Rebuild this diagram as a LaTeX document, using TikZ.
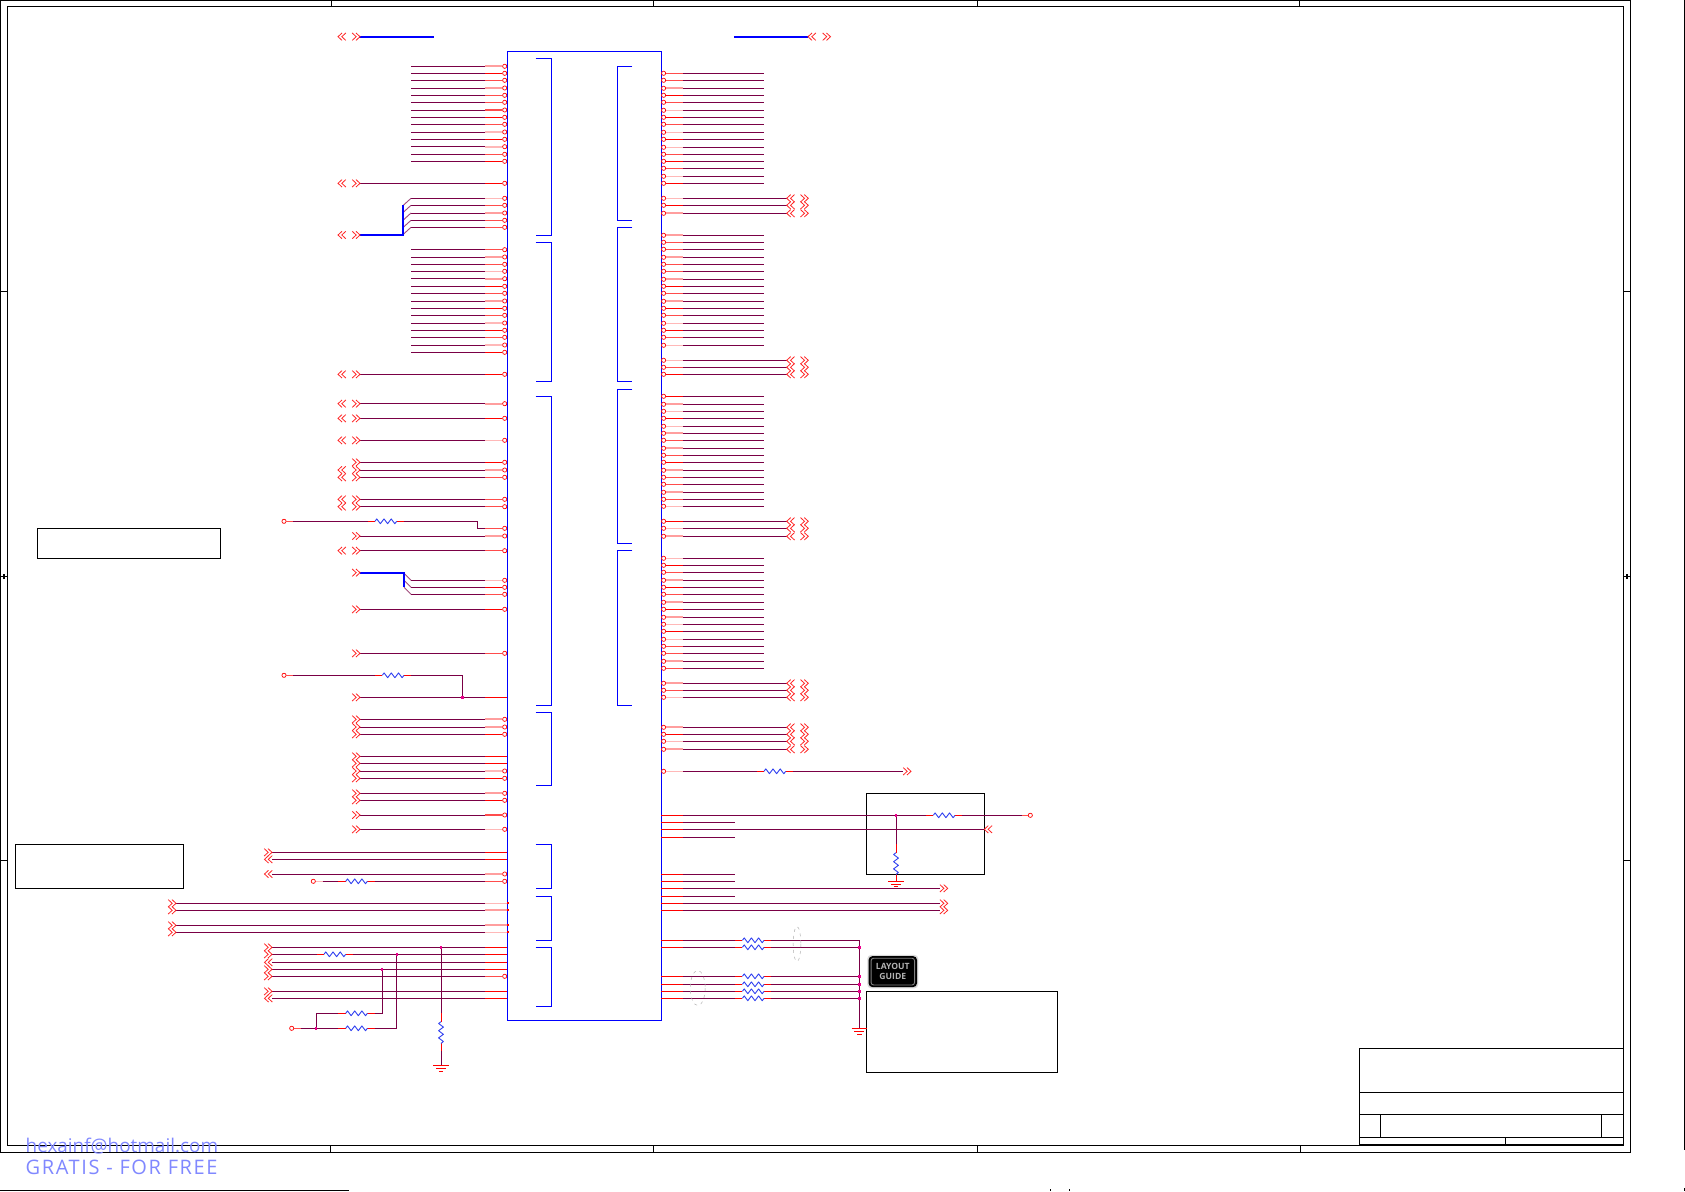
\documentclass[tikz,border=0pt]{standalone}
\usepackage{fontspec}
\setmainfont{Open Sans}
\newfontfamily\wmfont[LetterSpace=8]{Open Sans}
\definecolor{wirec}{HTML}{7A0045}
\definecolor{wmc}{HTML}{8088FF}
\definecolor{resc}{HTML}{3040F0}
\tikzset{
  wire/.style={draw=wirec,line width=.95pt},
  bluebus/.style={draw=blue,line width=2pt},
  blueln/.style={draw=blue,line width=1pt},
  diag/.style={draw=wirec!70!white,line width=.9pt},
  sr/.style={draw=red,line width=.95pt},
  sm/.style={draw=red!70!white,line width=1.1pt},
  sp/.style={draw=red!38!white,line width=2pt},
  sl/.style={draw=red!28!white,line width=1.6pt},
  pinc/.style={circle,draw=red,fill=white,line width=.7pt,inner sep=0pt,minimum size=4.2pt},
  jn/.style={rectangle,fill=magenta,inner sep=0pt,minimum size=2.4pt},
  frameln/.style={draw=black,line width=1pt},
  plainbox/.style={draw=black,line width=1pt,fill=none,inner sep=0pt,anchor=north west},
  chev/.style={draw=red!85!white,line width=.8pt},
  pics/chr/.style={code={\draw[chev] (-7.8,-3.7)--(-3.8,0)--(-7.8,3.7) (-4,-3.7)--(0,0)--(-4,3.7);}},
  pics/chl/.style={code={\draw[chev] (7.8,-3.7)--(3.8,0)--(7.8,3.7) (4,-3.7)--(0,0)--(4,3.7);}},
  pics/hz/.style={code={\draw[draw=resc,line width=.9pt,line join=round] (0,0)--(1.8,-2.4)--(5.4,2.4)--(9,-2.4)--(12.6,2.4)--(16.2,-2.4)--(19.8,2.4)--(21.7,0);}},
  pics/vz/.style={code={\draw[draw=resc,line width=.9pt,line join=round] (0,0)--(-2.4,1.8)--(2.4,5.4)--(-2.4,9)--(2.4,12.6)--(-2.4,16.2)--(2.4,19.8)--(0,21.7);}},
}
% left row with a pin
\newcommand{\Lrow}[4]{\node[pinc] (#1p) at (504.7,#2) {};\coordinate (#1s) at (#3,#2);\coordinate (#1k) at (485,#2);\draw[#4] (#1k) -- (#1p);\draw[wire] (#1s) -- (#1k);}
% left row without a pin
\newcommand{\LrowN}[4]{\coordinate (#1p) at (507.3,#2);\coordinate (#1s) at (#3,#2);\coordinate (#1k) at (485,#2);\draw[#4] (#1k) -- (#1p);\draw[wire] (#1s) -- (#1k);}
% right row with a pin
\newcommand{\Rrow}[4]{\node[pinc] (#1p) at (663.6,#2) {};\coordinate (#1e) at (#3,#2);\coordinate (#1k) at (683,#2);\draw[#4] (#1p) -- (#1k);\draw[wire] (#1k) -- (#1e);}
% right row without a pin
\newcommand{\RrowN}[4]{\coordinate (#1p) at (661.3,#2);\coordinate (#1e) at (#3,#2);\coordinate (#1k) at (683,#2);\draw[#4] (#1p) -- (#1k);\draw[wire] (#1k) -- (#1e);}
% horizontal resistor: #2 = start of zigzag
\newcommand{\hres}[3]{\coordinate (#1a) at ({#2-7.3},#3);\coordinate (#1c) at (#2,#3);\coordinate (#1d) at ({#2+21.7},#3);\coordinate (#1b) at ({#2+29},#3);\draw[sr] (#1a)--(#1c) (#1d)--(#1b);\pic at (#1c) {hz};}
% vertical resistor
\newcommand{\vres}[3]{\coordinate (#1a) at (#2,{#3-8.3});\coordinate (#1c) at (#2,#3);\coordinate (#1d) at (#2,{#3+21.7});\coordinate (#1b) at (#2,{#3+29});\draw[sr] (#1a)--(#1c) (#1d)--(#1b);\pic at (#1c) {vz};}
% ground symbol
\newcommand{\gnd}[3]{\coordinate (#1) at (#2,#3);\draw[draw=red,line width=.9pt] ({#2-7.6},#3)--({#2+7.6},#3) ({#2-5},{#3+2.7})--({#2+5},{#3+2.7}) ({#2-2.2},{#3+5.3})--({#2+2.2},{#3+5.3});}
\begin{document}
\begin{tikzpicture}[x=1pt,y=-1pt]
\useasboundingbox (0,0) rectangle (1685,1191);
\fill[white] (0,0) rectangle (1685,1191);
% ---------- sheet frame
\draw[frameln] (0.5,0.4) rectangle (1630.5,1152.5);
\draw[frameln] (7.3,6.6) rectangle (1623.5,1145.2);
\foreach \x in {331,653.5,977,1299.5} {\draw[frameln] (\x,0.4) -- (\x,6.6);}
\foreach \x in {330.5,653.7,977.3,1300.3} {\draw[frameln] (\x,1145.2) -- (\x,1152.5);}
\foreach \y in {291.2,860.3} {\draw[frameln] (0.5,\y) -- (7.3,\y); \draw[frameln] (1623.5,\y) -- (1630.5,\y);}
\draw[frameln] (0.5,576.3) -- (7.3,576.3);
\fill[black] (3,574) rectangle (5,578.6);
\draw[frameln] (1623.5,576.3) -- (1630.5,576.3);
\fill[black] (1625.5,574) rectangle (1627.5,578.6);
\draw[frameln] (1684.5,0) -- (1684.5,1150);
\draw[frameln] (1684.5,1188) -- (1684.5,1191);
\draw[frameln] (0,1190.4) -- (349,1190.4);
\draw[frameln] (1050,1189) -- (1050,1191) (1069,1189) -- (1069,1191);
% ---------- title block
\draw[frameln] (1359.3,1048.3) rectangle (1623.5,1144.5);
\draw[frameln] (1359.3,1092.3) -- (1623.5,1092.3);
\draw[frameln] (1359.3,1114.3) -- (1623.5,1114.3);
\draw[frameln] (1359.3,1137.3) -- (1623.5,1137.3);
\draw[frameln] (1380.7,1114.3) -- (1380.7,1137.3);
\draw[frameln] (1601.7,1114.3) -- (1601.7,1137.3);
\draw[frameln] (1505.3,1137.3) -- (1505.3,1144.5);
\draw[draw=black,line width=1.6pt] (1359.3,1144.6) -- (1623.5,1144.6);
% ---------- note boxes
\node[plainbox,minimum width=183pt,minimum height=29.6pt] (noteA) at (37.3,528.3) {};
\node[plainbox,minimum width=167.4pt,minimum height=44pt] (noteB) at (15.3,844.3) {};
\node[plainbox,minimum width=118pt,minimum height=81pt] (noteC) at (866.3,793.3) {};
\node[plainbox,minimum width=191pt,minimum height=81pt] (noteD) at (866.3,991.3) {};
% ---------- main part
\node[draw=blue,line width=1pt,inner sep=0pt,anchor=north west,minimum width=154pt,minimum height=969pt] (part) at (507.3,51.3) {};
% left brackets
\foreach \a/\b in {58/235.3,242.3/381.5,396.5/705,712/785,844.7/888,896.2/940.3,947.5/1006.8}
  {\draw[blueln] (535.5,\a) -- (551.3,\a) -- (551.3,\b) -- (535.5,\b);}
% right brackets
\foreach \a/\b in {66/220.3,227.3/381.3,389.3/543.3,550.3/705.3}
  {\draw[blueln] (632.3,\a) -- (617.3,\a) -- (617.3,\b) -- (632.3,\b);}
% ---------- top single bus lines
\coordinate (tl) at (359,36.7); \coordinate (tle) at (434,36.7);
\draw[bluebus] (tl) -- (tle);
\coordinate (tr) at (734,36.7); \coordinate (tre) at (808,36.7);
\draw[bluebus] (tr) -- (tre);
\pic at (808,36.7) {chl}; \pic at (830.5,36.7) {chr};
% ---------- left pin groups
\foreach \y/\s [count=\i] in {66.3/sp,73.3/sr,80.3/sm,88/sp,95.3/sm,102.3/sm,110/sm,117.3/sr,124.3/sm,132/sl,139.3/sr,146.7/sl,154.3/sm,161.3/sr}
  {\Lrow{la\i}{\y}{411}{\s}}
\foreach \y/\s [count=\i] in {198.3/sl,205.3/sm,213/sp,220.3/sm,227.3/sm}
  {\Lrow{lb\i}{\y}{411}{\s}
   \coordinate (lbd\i) at (403.3,{\y+7});
   \draw[diag] (lbd\i) -- (lb\i s);}
\coordinate (bh1) at (360,235); \coordinate (bh2) at (403.3,235); \coordinate (bh3) at (403.3,205);
\draw[bluebus] (bh1) -- (bh2) -- (bh3);
\foreach \y/\s [count=\i] in {249.7/sm,257/sp,264.3/sm,271.3/sl,278.7/sp,286.3/sr,293.3/sm,301/sp,308.3/sr,315.3/sm,323/sl,330.3/sr,337.3/sm,345/sl,352.3/sr}
  {\Lrow{lc\i}{\y}{411}{\s}}
% left rows with off-page chevrons
\foreach \y/\s [count=\i] in {183.3/sr,374.3/sr,403.7/sp,418.3/sr,440.3/sl,462.3/sr,470/sp,477.3/sm,499.3/sm,506.7/sm,536/sp,550.7/sm,609.3/sr,653.3/sm,719.3/sp,727/sp,734.3/sr,771/sl,778.3/sr,793.3/sp,800.3/sr,815/sm,829.3/sl}
  {\Lrow{ld\i}{\y}{360}{\s}\pic at (360,\y) {chr};}
\foreach \y in {183.3,374.3,403.7,418.3,440.3,470,477.3,499.3,506.7,550.7}
  {\pic at (338,\y) {chl};}
\foreach \y in {235} {\pic at (360,\y) {chr}; \pic at (338,\y) {chl};}
\pic at (360,36.7) {chr}; \pic at (338,36.7) {chl};
% no-pin left rows
\foreach \y [count=\i] in {756.3,763.3}
  {\LrowN{le\i}{\y}{360}{sr}\pic at (360,\y) {chr};}
\LrowN{lf}{697.3}{360}{sr}\pic at (360,697.3) {chr};
% second bus
\foreach \y/\s [count=\i] in {580.3/sl,587.3/sr,594.3/sm}
  {\Lrow{lg\i}{\y}{411}{\s}
   \coordinate (lgd\i) at (404,{\y-7});
   \draw[diag] (lgd\i) -- (lg\i s);}
\coordinate (gh1) at (360,572.7); \coordinate (gh2) at (404,572.7); \coordinate (gh3) at (404,587.3);
\draw[bluebus] (gh1) -- (gh2) -- (gh3);
\pic at (360,572.7) {chr};
% resistor row 1
\node[pinc] (ra0) at (284,521.3) {};
\coordinate (ra1) at (293.3,521.3);
\draw[sm] (ra0) -- (ra1);
\hres{ra}{375}{521.3}
\draw[wire] (ra1) -- (raa);
\Lrow{rb}{528.3}{477.3}{sm}
\coordinate (rbc) at (477.3,521.3);
\draw[wire] (rab) -- (rbc) -- (rbs);
% resistor row 2
\node[pinc] (rc0) at (284,675.3) {};
\coordinate (rc1) at (293.3,675.3);
\draw[sm] (rc0) -- (rc1);
\hres{rc}{382.3}{675.3}
\draw[wire] (rc1) -- (rca);
\coordinate (rcc) at (462.3,675.3); \coordinate (rcj) at (462.3,697.3);
\draw[wire] (rcb) -- (rcc) -- (rcj);
\node[jn] (rcjn) at (rcj) {};
% ---------- lower left
\LrowN{ma}{852.3}{272}{sr}\pic at (272,852.3) {chr};
\LrowN{mb}{859.3}{272}{sr}\pic at (264.5,859.3) {chl};
\Lrow{mc}{874}{272}{sp}\pic at (264.5,874) {chl};
\node[pinc] (md0) at (313.3,881.3) {};
\coordinate (md1) at (322.7,881.3);
\draw[sl] (md0) -- (md1);
\hres{md}{345.7}{881.3}
\draw[wire] (md1) -- (mda);
\Lrow{me}{881.3}{374.7}{sm}
\draw[wire] (mdb) -- (mes);
\foreach \y/\s [count=\i] in {903.3/sl,910.3/sp,925.3/sp,932.3/sl}
  {\LrowN{mf\i}{\y}{176}{\s}\pic at (176,\y) {chr};
   \fill[red] (507,{\y-1}) rectangle (509,{\y+1});}
% bottom cluster
\LrowN{na}{947.3}{272}{sr}\pic at (272,947.3) {chr};
\coordinate (nb0) at (272,954.3); \coordinate (nb1) at (316.7,954.3);
\draw[wire] (nb0) -- (nb1);\pic at (272,954.3) {chr};
\hres{nb}{324}{954.3}
\LrowN{nc}{954.3}{353}{sr}
\draw[wire] (nbb) -- (ncs);
\LrowN{nd}{962.3}{272}{sr}\pic at (264.5,962.3) {chl};
\LrowN{ne}{969.3}{272}{sr}\pic at (272,969.3) {chr};
\Lrow{nf}{976.3}{272}{sm}\pic at (272,976.3) {chr};
\LrowN{ng}{991.3}{272}{sr}\pic at (272,991.3) {chr};
\LrowN{nh}{998.3}{272}{sr}\pic at (264.5,998.3) {chl};
\hres{nj}{345.7}{1013.3}
\hres{nk}{345.7}{1028.3}
\node[pinc] (nk0) at (291.7,1028.3) {};
\coordinate (nk1) at (300.7,1028.3);
\draw[sm] (nk0) -- (nk1);
\draw[wire] (nk1) -- (nka);
\coordinate (njl) at (316,1013.3); \coordinate (nkl) at (316,1028.3);
\draw[wire] (nkl) -- (njl) -- (nja);
\node[jn] (nkln) at (nkl) {};
\coordinate (njt) at (382.2,969.3); \coordinate (njc) at (382.2,1013.3);
\draw[wire] (njb) -- (njc) -- (njt);
\node[jn] (njtn) at (njt) {};
\coordinate (nkt) at (396.7,954.3); \coordinate (nkc) at (396.7,1028.3);
\draw[wire] (nkb) -- (nkc) -- (nkt);
\node[jn] (nktn) at (nkt) {};
\coordinate (nvt) at (441,947.3);
\vres{nv}{441}{1021.7}
\coordinate (nve) at (441,1065.7);
\draw[wire] (nvt) -- (nva) (nvb) -- (nve);
\node[jn] (nvtn) at (nvt) {};
\gnd{gA}{441}{1065.7}
% ---------- right pin groups
\foreach \y/\s [count=\i] in {73.3/sm,80.3/sm,88.3/sp,95.3/sr,102.3/sm,110.3/sl,117.3/sr,124.3/sm,132.3/sl,139.3/sr,147.3/sl,154.3/sm,161.3/sr,168.3/sm,176.3/sl,183.3/sr,
  235.3/sp,242.3/sm,249.3/sm,257.3/sp,264.3/sm,271.3/sm,279.3/sp,286.3/sr,293.3/sm,301.3/sp,308.3/sr,315.3/sm,323.3/sl,330.3/sr,337.3/sm,345.3/sl,
  396.3/sr,404.3/sp,411.3/sl,418.3/sr,426.3/sl,433.3/sp,440.3/sm,448.3/sp,455.3/sm,462.3/sr,470.3/sp,477.3/sm,484.3/sm,492.3/sp,499.3/sm,506.3/sl,
  558.3/sl,565.3/sr,572.3/sm,580.3/sp,587.3/sr,594.3/sm,602.3/sp,609.3/sr,617.3/sp,624.3/sl,631.3/sr,639.3/sl,646.3/sm,653.3/sm,661.3/sp,668.3/sm}
  {\Rrow{ra\i}{\y}{764.3}{\s}}
\foreach \y/\s [count=\i] in {198.3/sl,205.3/sr,213.3/sp,360.3/sl,367.3/sm,374.3/sr,521.3/sr,528.3/sl,536.3/sp,683.3/sp,690.3/sm,697.3/sl,727.3/sp,734.3/sr,741.3/sl,749.3/sp}
  {\Rrow{rz\i}{\y}{786.7}{\s}\pic at (786.7,\y) {chl}; \pic at (808.3,\y) {chr};}
% right resistor row to chevron
\Rrow{sa}{771.3}{756.7}{sl}
\hres{sr1}{764}{771.3}
\coordinate (sae) at (903.3,771.3);
\draw[wire] (sr1b) -- (sae);
\pic at (911,771.3) {chr};
% rows through note box
\RrowN{sb}{815.3}{926}{sr}
\hres{sr2}{933.3}{815.3}
\coordinate (sbe) at (1021.7,815.3);
\node[pinc] (sbp2) at (1030.3,815.3) {};
\draw[wire] (sr2b) -- (sbe);
\draw[sm] (sbe) -- (sbp2);
\RrowN{sc}{822.3}{735}{sr}
\RrowN{sd}{829.3}{984.3}{sr}
\pic at (984.3,829.3) {chl};
\RrowN{se}{837.3}{735}{sr}
\coordinate (sft) at (896,815.3);
\vres{sf}{896}{852.7}
\coordinate (sfe) at (896,881.3);
\draw[wire] (sft) -- (sfa);
\draw[sr] (sfb) -- (sfe);
\node[jn] (sftn) at (sft) {};
\gnd{gB}{896}{881.3}
\foreach \y [count=\i] in {874.3,881.3,896.3}
  {\RrowN{sg\i}{\y}{735}{sr}}
\foreach \y [count=\i] in {888.3,903.3,910.3}
  {\RrowN{sh\i}{\y}{940}{sr}\pic at (947.7,\y) {chr};}
% termination resistors
\coordinate (tv1) at (859.3,940.3); \coordinate (tv2) at (859.3,1028.3);
\foreach \y [count=\i] in {940.3,947.3,976.3,984.3,991.3,998.3}
  {\RrowN{tw\i}{\y}{735.4}{sr}
   \hres{tx\i}{742.4}{\y}
   \coordinate (ty\i) at (859.3,\y);
   \draw[wire] (tx\i b) -- (ty\i);}
\draw[wire] (tv1) -- (tv2);
\foreach \i in {2,3,4,5,6} {\node[jn] (tyn\i) at (ty\i) {};}
\gnd{gC}{859.3}{1028.7}
% dashed ellipses
\draw[draw=black!30,dash pattern=on 3pt off 4pt,line width=.5pt] (797,944) ellipse (3.8 and 17.5);
\draw[draw=black!30,dash pattern=on 3pt off 4pt,line width=.5pt] (697.7,988) ellipse (7.5 and 17.5);
% layout guide badge
\node[fill=black!15,rounded corners=4pt,inner sep=0pt,minimum width=51pt,minimum height=33.5pt] (badgeo) at (892.8,971.6) {};
\node[fill=black,rounded corners=4pt,inner sep=0pt,minimum width=48.5pt,minimum height=31pt] (badgei) at (892.8,971.6) {};
\node[draw=black!50,rounded corners=2.5pt,line width=.9pt,inner sep=0pt,minimum width=43.5pt,minimum height=26.7pt] (badgeb) at (892.8,971.6) {};
\node[align=center,inner sep=0pt,text=black!30,font=\bfseries\fontsize{8.6}{9.4}\selectfont] (badget) at (892.8,971.6) {LAYOUT\\GUIDE};
% watermark
\node[anchor=base west,inner sep=0pt,text=wmc,font=\fontsize{18.9}{24}\selectfont] (wm1) at (25.5,1152.4) {hexainf@hotmail.com};
\node[anchor=base west,inner sep=0pt,text=wmc,font=\wmfont\fontsize{20}{24}\selectfont] (wm2) at (25.5,1174) {GRATIS - FOR FREE};
\end{tikzpicture}
\end{document}
